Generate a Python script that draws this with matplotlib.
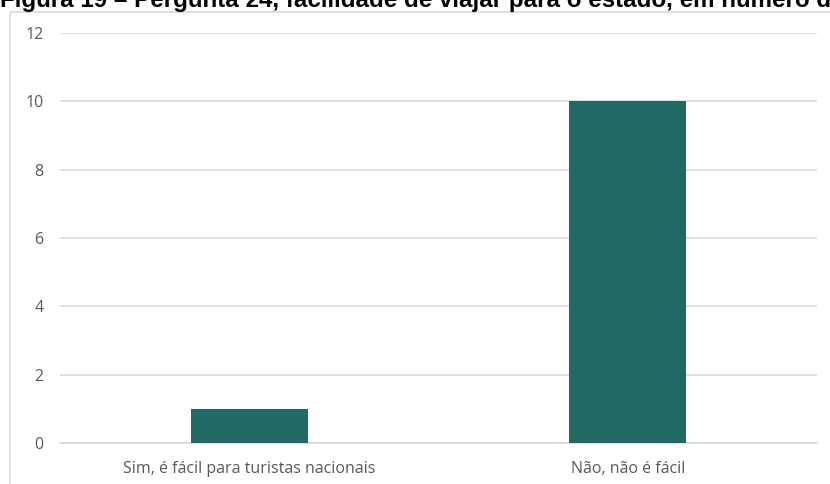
import matplotlib
matplotlib.use("Agg")
import matplotlib.pyplot as plt
from matplotlib.patches import Rectangle

categories = ["Sim, é fácil para turistas nacionais", "Não, não é fácil"]
values = [1, 10]
yticks = [0, 2, 4, 6, 8, 10, 12]
title = "Figura 19 – Pergunta 24, facilidade de viajar para o estado, em número de respostas"

W, H = 830, 484
fig = plt.figure(figsize=(W / 100, H / 100), dpi=100)

# chart border (cropped screenshot)
fig.patches.append(Rectangle((10 / W, -0.1), 1.2, 1 - 12 / H + 0.1, transform=fig.transFigure,
                             fill=False, edgecolor="#d9d9d9", linewidth=1.2, zorder=0))

fig.text(0 / W, 1 - 7.5 / H, title, ha="left", va="baseline", fontsize=17.4,
         fontweight="bold", family="Liberation Sans", color="black")

ax = fig.add_axes([60 / W, 1 - 443 / H, (817 - 60) / W, (443 - 33) / H])
x = range(len(categories))
ax.bar(x, values, width=0.31, color="#216965", zorder=3)
ax.set_xlim(-0.5, 1.5)
ax.set_ylim(0, 12)
ax.set_yticks(yticks)
ax.set_yticklabels([str(v) for v in yticks])
ax.set_xticks(list(x))
ax.set_xticklabels(categories)
ax.grid(axis="y", color="#d9d9d9", linewidth=1.2, zorder=0)
for s in ["top", "right", "left"]:
    ax.spines[s].set_visible(False)
ax.spines["bottom"].set_color("#d9d9d9")
ax.spines["bottom"].set_linewidth(1.2)
ax.tick_params(axis="both", length=0, colors="#595959", labelsize=11.5)
ax.tick_params(axis="y", pad=12)
ax.tick_params(axis="x", pad=13)
for lab in ax.get_xticklabels() + ax.get_yticklabels():
    lab.set_family("Open Sans")
ax.set_facecolor("none")

fig.savefig("out.png", dpi=100)
